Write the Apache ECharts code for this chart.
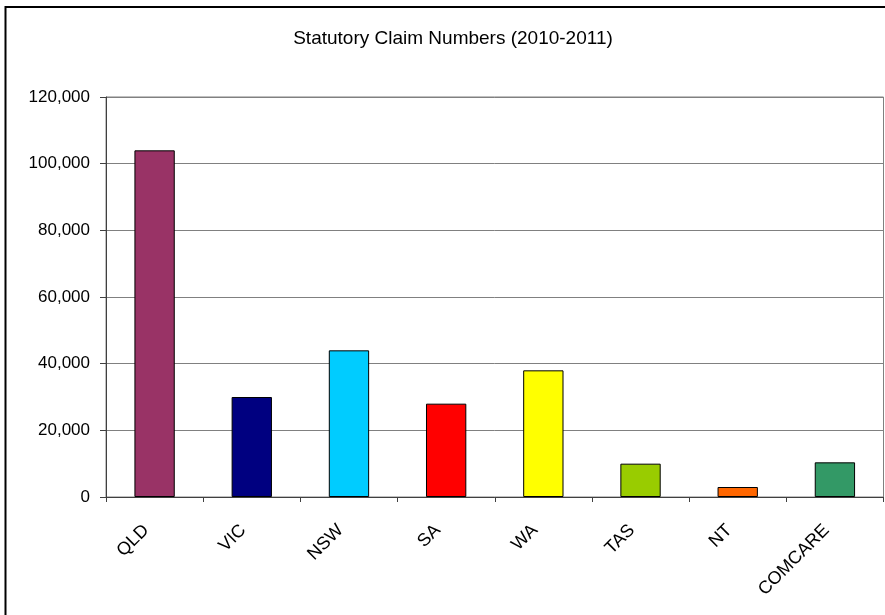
<!DOCTYPE html>
<html>
<head>
<meta charset="utf-8">
<script src="https://cdn.jsdelivr.net/npm/echarts@6/dist/echarts.min.js"></script>
<style>
html,body{margin:0;padding:0;background:#fff;}
#chart{width:885px;height:615px;}
</style>
</head>
<body>
<div id="chart"></div>
<script>
const titleText = 'Statutory Claim Numbers (2010-2011)';
const categories = ['QLD', 'VIC', 'NSW', 'SA', 'WA', 'TAS', 'NT', 'COMCARE'];
const claimValues = [104000, 30000, 44000, 28000, 38000, 10000, 3000, 10400];
const barColors = ['#993366', '#000080', '#00CCFF', '#FF0000', '#FFFF00', '#99CC00', '#FF6600', '#339966'];
const yTicks = [0, 20000, 40000, 60000, 80000, 100000, 120000];

const chart = echarts.init(document.getElementById('chart'), null, {renderer: 'canvas'});
const font = '"Liberation Sans", Arial, sans-serif';
chart.setOption({
  animation: false,
  backgroundColor: '#fff',
  graphic: [{
    type: 'rect',
    shape: {x: 5.5, y: 7, width: 960, height: 700},
    style: {fill: 'none', stroke: '#000', lineWidth: 2},
    silent: true
  }],
  title: {
    text: titleText,
    left: 448,
    textAlign: 'center',
    top: 24,
    textStyle: {fontFamily: font, fontSize: 19, fontWeight: 'normal', color: '#000'}
  },
  grid: {left: 106, right: 1.5, top: 97, bottom: 118, show: true, borderColor: '#808080', borderWidth: 1, containLabel: false},
  xAxis: {
    type: 'category',
    data: categories,
    axisLine: {show: true, lineStyle: {color: '#404040', width: 1}},
    axisTick: {show: true, alignWithLabel: false, length: 5, lineStyle: {color: '#404040'}},
    axisLabel: {rotate: 45, margin: 22, padding: [0, 12, 0, 0], fontFamily: font, fontSize: 18, color: '#000', interval: 0}
  },
  yAxis: {
    type: 'value',
    min: yTicks[0],
    max: yTicks[yTicks.length - 1],
    interval: yTicks[1] - yTicks[0],
    axisLine: {show: true, lineStyle: {color: '#404040', width: 1}},
    axisTick: {show: true, length: 6, lineStyle: {color: '#404040'}},
    splitLine: {show: true, lineStyle: {color: '#808080', width: 1}},
    axisLabel: {margin: 16, fontFamily: font, fontSize: 17, color: '#000',
      formatter: v => v.toLocaleString('en-US')}
  },
  series: [{
    type: 'bar',
    data: claimValues.map((v, i) => ({value: v, itemStyle: {color: barColors[i]}})),
    barWidth: '41.5%',
    itemStyle: {borderColor: '#000', borderWidth: 1}
  }]
});
</script>
</body>
</html>
